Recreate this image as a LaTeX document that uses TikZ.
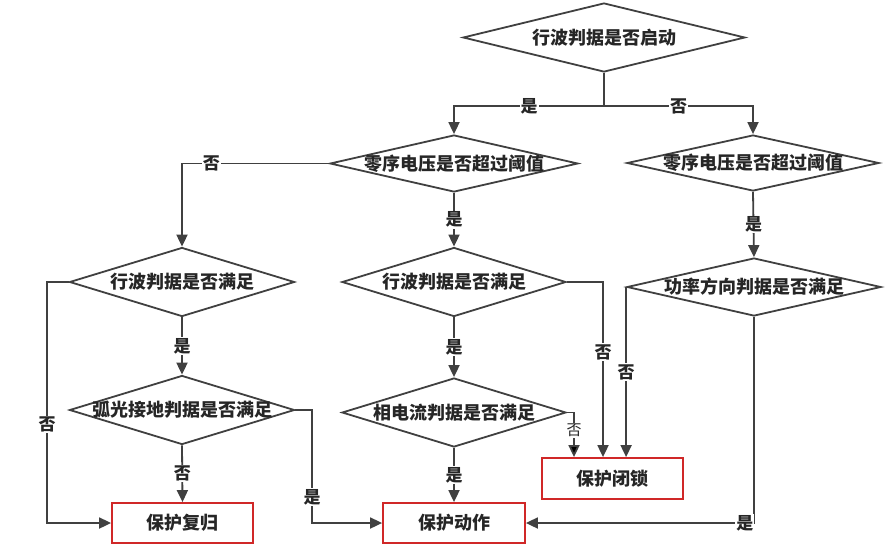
\documentclass[tikz,border=0pt]{standalone}
\usepackage{fontspec}
\newfontfamily\cjk{Noto Sans CJK SC}
\usetikzlibrary{shapes.geometric,arrows.meta}
\definecolor{ln}{HTML}{404040}
\definecolor{bx}{HTML}{D02828}
\tikzset{
  txt/.style={font=\cjk\bfseries\fontsize{18}{20}\selectfont,text=black!85},
  every label/.style={txt},
  dia/.style={shape=diamond,draw=ln,line width=1.8pt,inner sep=0pt},
  boxnode/.style={shape=rectangle,draw=bx,line width=1.8pt,inner sep=0pt,txt,minimum height=40pt},
  arr/.style={draw=ln,line width=1.8pt,-{Triangle[length=12pt,width=11pt]}},
  plain/.style={draw=ln,line width=1.8pt},
  lbl/.style={fill=white,inner sep=1pt,font=\cjk\bfseries\fontsize{17}{19}\selectfont,text=black!85}
}
\begin{document}
\begin{tikzpicture}[x=1pt,y=-1pt]
\useasboundingbox (0,0) rectangle (886,550);
% decision nodes
\node[dia,minimum width=282pt,minimum height=69pt,label=center:{行波判据是否启动}] (d0) at (604,37.5) {};
\node[dia,minimum width=248pt,minimum height=57pt,label=center:{零序电压是否超过阈值}] (d1) at (454,163.5) {};
\node[dia,minimum width=252pt,minimum height=56pt,label=center:{零序电压是否超过阈值}] (d2) at (753,163) {};
\node[dia,minimum width=225pt,minimum height=69pt,label=center:{行波判据是否满足}] (d3) at (182,282) {};
\node[dia,minimum width=224pt,minimum height=69pt,label=center:{行波判据是否满足}] (d4) at (454,282) {};
\node[dia,minimum width=254pt,minimum height=58pt,label=center:{功率方向判据是否满足}] (d5) at (754,287) {};
\node[dia,minimum width=225pt,minimum height=69pt,label=center:{弧光接地判据是否满足}] (d6) at (182,410) {};
\node[dia,minimum width=224pt,minimum height=69pt,label=center:{相电流判据是否满足}] (d7) at (454,412.5) {};
% result boxes
\node[boxnode,minimum width=141pt] (r1) at (182.5,523) {保护复归};
\node[boxnode,minimum width=142pt] (r2) at (454,523) {保护动作};
\node[boxnode,minimum width=141pt,minimum height=41pt] (r3) at (612.5,478.5) {保护闭锁};
% corner coordinates
\coordinate (j0) at (604,106);
\coordinate (a1) at (47,282);
\coordinate (a2) at (47,523);
\coordinate (b1) at (312,410);
\coordinate (b2) at (312,523);
\coordinate (c1) at (603,282);
\coordinate (e1) at (574,412.5);
\coordinate (f2) at (754,523);
% connectors
\draw[plain] (d0.south) -- (j0);
\draw[arr] (j0) -| node[lbl,pos=0.25]{是} (d1.north);
\draw[arr] (j0) -| node[lbl,pos=0.25]{否} (d2.north);
\draw[arr] (d1.west) -| node[lbl,pos=0.4]{否} (d3.north);
\draw[arr] (d1.south) -- node[lbl]{是} (d4.north);
\draw[arr] (d2.south) -- node[lbl]{是} (d5.north);
\draw[arr] (d3.south) -- node[lbl]{是} (d6.north);
\draw[arr] (d4.south) -- node[lbl]{是} (d7.north);
\draw[arr] (d6.south) -- node[lbl]{否} (r1.north);
\draw[arr] (d7.south) -- node[lbl]{是} (r2.north);
\draw[arr] (d3.west) -- (a1) -- node[lbl,pos=0.59]{否} (a2) -- (r1.west);
\draw[arr] (d6.east) -- (b1) -- node[lbl,pos=0.77]{是} (b2) -- (r2.west);
\draw[arr] (d4.east) -- (c1) -- node[lbl,pos=0.4]{否} (c1 |- r3.north);
\draw[draw=ln,line width=1.8pt,-{Triangle[length=12pt,width=11pt,fill=black]}] (d7.east) -- (e1) -- node[lbl,pos=0.4,font=\cjk\fontsize{15}{17}\selectfont]{否} (e1 |- r3.north);
\draw[arr] (d5.west) -- node[lbl,pos=0.5]{否} (d5.west |- r3.north);
\draw[arr] (d5.south) -- (f2) -- node[lbl,pos=0.04]{是} (r2.east);
\end{tikzpicture}
\end{document}
